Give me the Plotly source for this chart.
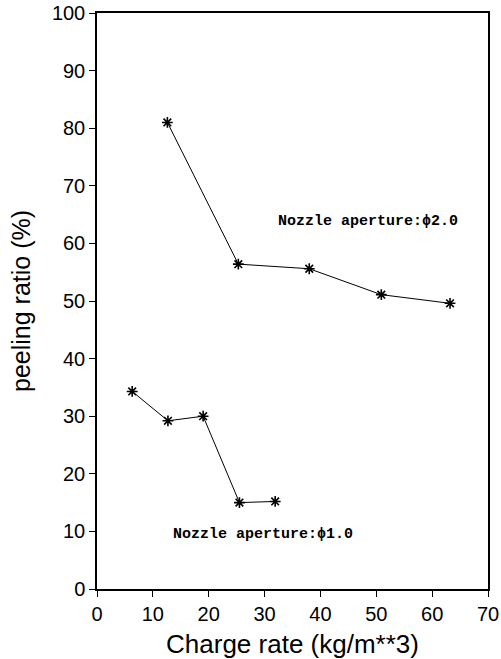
import plotly.graph_objects as go

# Data
x_phi20 = [12.6, 25.3, 38.0, 50.9, 63.2]
y_phi20 = [81.0, 56.4, 55.6, 51.1, 49.6]

x_phi10 = [6.3, 12.7, 19.0, 25.5, 31.9]
y_phi10 = [34.3, 29.2, 30.0, 15.0, 15.2]

label_phi20 = "Nozzle aperture:\u03d52.0"
label_phi10 = "Nozzle aperture:\u03d51.0"

x_ticks = [0, 10, 20, 30, 40, 50, 60, 70]
y_ticks = [0, 10, 20, 30, 40, 50, 60, 70, 80, 90, 100]

fig = go.Figure()
for xs, ys in [(x_phi20, y_phi20), (x_phi10, y_phi10)]:
    fig.add_trace(go.Scatter(
        x=xs, y=ys, mode="lines+markers",
        line=dict(color="black", width=1),
        marker=dict(symbol="asterisk-open", size=9,
                    line=dict(color="black", width=1.6), color="black"),
        showlegend=False,
    ))

fig.add_annotation(x=32.1, y=63.8, text=label_phi20, showarrow=False,
                   xanchor="left", yanchor="middle",
                   font=dict(family="Liberation Mono", size=15, color="black",
                             weight="bold"))
fig.add_annotation(x=13.3, y=9.4, text=label_phi10, showarrow=False,
                   xanchor="left", yanchor="middle",
                   font=dict(family="Liberation Mono", size=15, color="black",
                             weight="bold"))

axis_common = dict(
    showgrid=False, zeroline=False, showline=True, linecolor="black",
    linewidth=1.5, mirror=True, ticks="outside", ticklen=6, tickwidth=1.2,
    tickcolor="black", automargin=False,
    tickfont=dict(family="Liberation Sans", size=20, color="black"),
)

fig.update_layout(
    width=501, height=659,
    margin=dict(l=97, r=13, t=13, b=70),
    paper_bgcolor="white", plot_bgcolor="white",
    xaxis=dict(range=[0, 70], tickvals=x_ticks,
               title=dict(text="Charge rate (kg/m**3)", standoff=13,
                          font=dict(family="Liberation Sans", size=26, color="black")),
               **axis_common),
    yaxis=dict(range=[0, 100], tickvals=y_ticks,
               title=dict(text="peeling ratio (%)", standoff=14,
                          font=dict(family="Liberation Sans", size=25, color="black")),
               **axis_common),
)

fig.write_html("out.html")
